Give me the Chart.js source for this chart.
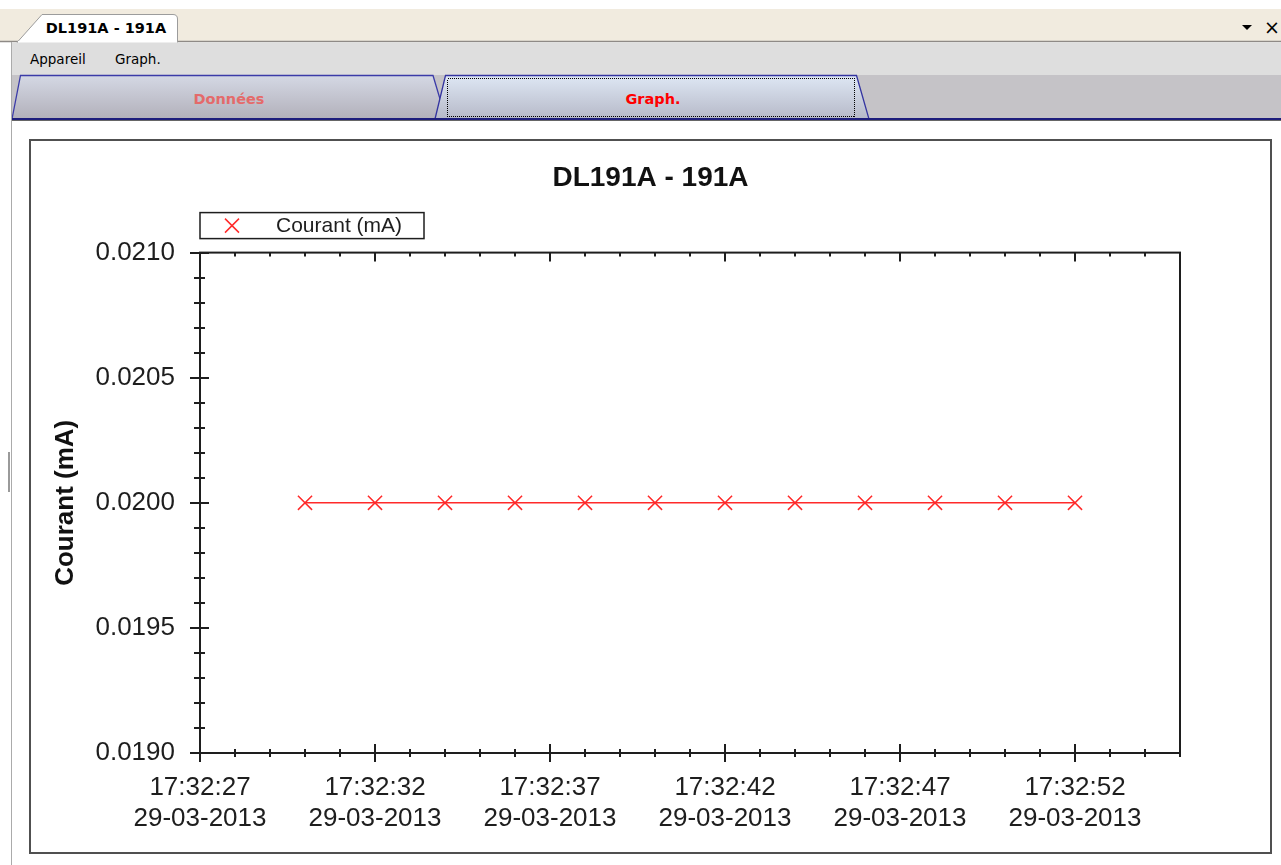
<!DOCTYPE html>
<html lang="fr">
<head>
<meta charset="utf-8">
<title>DL191A - 191A</title>
<script src="https://cdn.jsdelivr.net/npm/chart.js@4.4.1/dist/chart.umd.min.js"></script>
<style>
    html, body { margin: 0; padding: 0; background: #fff; }
    body { width: 1281px; height: 865px; overflow: hidden; position: relative; }
    #chrome { position: absolute; left: 0; top: 0; }
    #chrome text { font-family: 'DejaVu Sans', Verdana, sans-serif; }
    .bord-gauche { position: absolute; left: 11px; top: 42px; width: 1px; height: 823px; background: #ababab; }
    .poignee { position: absolute; left: 8px; top: 452px; width: 2px; height: 40px; background: #9a9a9a; }
    .panneau { position: absolute; left: 29px; top: 139px; width: 1243px; height: 715px;
               border: 2px solid #505050; box-sizing: border-box; }
    #graphique { position: absolute; left: 32px; top: 142px; }
</style>
</head>
<body>

<svg id="chrome" width="1281" height="122" xmlns="http://www.w3.org/2000/svg">
    <defs>
        <linearGradient id="gDonnees" x1="0" y1="0" x2="0" y2="1">
            <stop offset="0" stop-color="#d4d8e4"/>
            <stop offset="1" stop-color="#b2b0ba"/>
        </linearGradient>
        <linearGradient id="gGraph" x1="0" y1="0" x2="0" y2="1">
            <stop offset="0" stop-color="#dee7f4"/>
            <stop offset="1" stop-color="#b6b9c8"/>
        </linearGradient>
    </defs>
    <!-- barre d'onglets du document -->
    <rect x="0" y="9" width="1281" height="33" fill="#f1ebdf"/>
    <line x1="0" y1="41.5" x2="1281" y2="41.5" stroke="#8e8a86" stroke-width="1.5"/>
    <path d="M17,42.5 L42,14.5 H173 Q177.5,14.5 177.5,19 V42.5 Z" fill="#fff" stroke="#9c9c9c" stroke-width="1"/>
    <rect x="18" y="41" width="159" height="3" fill="#fff"/>
    <text x="106" y="32.5" text-anchor="middle" font-size="14.5" font-weight="bold" fill="#000">DL191A - 191A</text>
    <path d="M1242,25 h10 l-5,5 z" fill="#000"/>
    <text x="1272" y="34" text-anchor="middle" font-size="19" fill="#000">×</text>

    <!-- menu -->
    <rect x="12" y="42.5" width="1269" height="32.5" fill="#dedede"/>
    <text x="30" y="64" font-size="13.5" fill="#000">Appareil</text>
    <text x="115" y="64" font-size="13.5" fill="#000">Graph.</text>

    <!-- onglets Données / Graph. -->
    <rect x="12" y="75" width="1269" height="45" fill="#c5c3c7"/>
    <path d="M12,119 L20.5,75.5 H433 L446,119 Z" fill="url(#gDonnees)" stroke="#3b3ba8" stroke-width="1.3"/>
    <text x="229" y="104" text-anchor="middle" font-size="14.5" font-weight="bold" fill="#e46a6a">Données</text>
    <path d="M435,119 L445.5,75.5 H856.5 L869,119 Z" fill="url(#gGraph)" stroke="#3434a0" stroke-width="1.3"/>
    <rect x="447.5" y="78.5" width="407" height="38" fill="none" stroke="#000" stroke-width="1"
          stroke-dasharray="1,1" shape-rendering="crispEdges"/>
    <text x="653" y="104" text-anchor="middle" font-size="14.5" font-weight="bold" fill="#ff0000">Graph.</text>
    <line x1="12" y1="119" x2="1281" y2="119" stroke="#1d1d7c" stroke-width="2"/>
    <line x1="12" y1="120.5" x2="1281" y2="120.5" stroke="#666" stroke-width="1"/>
</svg>
<div class="bord-gauche"></div>
<div class="poignee"></div>
<div class="panneau"></div>
<canvas id="graphique" width="1237" height="709"></canvas>

<script>
// mesures relevées
const heures = ['17:32:30', '17:32:32', '17:32:34', '17:32:36', '17:32:38', '17:32:40',
                '17:32:42', '17:32:44', '17:32:46', '17:32:48', '17:32:50', '17:32:52'];
const courant = [0.0200, 0.0200, 0.0200, 0.0200, 0.0200, 0.0200,
                 0.0200, 0.0200, 0.0200, 0.0200, 0.0200, 0.0200];

// graduations
const ticksHeures = ['17:32:27', '17:32:32', '17:32:37', '17:32:42', '17:32:47', '17:32:52'];
const ticksCourant = [0.0190, 0.0195, 0.0200, 0.0205, 0.0210];
const dateMesure = '29-03-2013';
const debutAxe = '17:32:27';
const finAxe = '17:32:55';

const police = "'Liberation Sans', Arial, Helvetica, sans-serif";
const rouge = '#ff2a2a';
const noir = '#1e1e1e';

const enSecondes = (h) => {
    const [hh, mm, ss] = h.split(':').map(Number);
    return hh * 3600 + mm * 60 + ss;
};

const enHeure = (s) => {
    const p = (n) => String(n).padStart(2, '0');
    return `${p(Math.floor(s / 3600))}:${p(Math.floor(s / 60) % 60)}:${p(s % 60)}`;
};

const points = heures.map((h, i) => ({ x: enSecondes(h), y: courant[i] }));
const majeursX = ticksHeures.map(enSecondes);

// cadre du tracé + graduations croisées (principales et secondaires)
const cadreAxes = {
    id: 'cadreAxes',
    beforeDatasetsDraw(chart) {
        const { ctx, chartArea: a, scales: { x, y } } = chart;
        ctx.save();
        ctx.strokeStyle = noir;
        ctx.lineWidth = 2;
        ctx.strokeRect(a.left, a.top, a.right - a.left, a.bottom - a.top);

        ctx.beginPath();
        for (let s = Math.ceil(x.min); s <= x.max; s++) {
            const px = Math.round(x.getPixelForValue(s));
            const majeur = majeursX.includes(s);
            const l = majeur ? 9 : 4;
            ctx.moveTo(px, a.bottom - l);
            ctx.lineTo(px, a.bottom + l);
            ctx.moveTo(px, a.top);
            ctx.lineTo(px, a.top + l);
        }
        const pas = 0.0001;
        const n = Math.round((y.max - y.min) / pas);
        for (let i = 0; i <= n; i++) {
            const py = Math.round(y.getPixelForValue(y.min + i * pas));
            const l = i % 5 === 0 ? 9 : 5;
            ctx.moveTo(a.left - l - 1, py);
            ctx.lineTo(a.left + l, py);
        }
        ctx.stroke();
        ctx.restore();
    }
};

// légende encadrée au-dessus du tracé
const legendeCadre = {
    id: 'legendeCadre',
    afterDraw(chart) {
        const { ctx, chartArea: a } = chart;
        const haut = a.top - 40;
        const cy = haut + 13;
        ctx.save();
        ctx.strokeStyle = noir;
        ctx.lineWidth = 1.5;
        ctx.strokeRect(a.left, haut, 224, 26);

        const mx = a.left + 32;
        ctx.strokeStyle = rouge;
        ctx.lineWidth = 1.5;
        ctx.beginPath();
        ctx.moveTo(mx - 7, cy - 7); ctx.lineTo(mx + 7, cy + 7);
        ctx.moveTo(mx + 7, cy - 7); ctx.lineTo(mx - 7, cy + 7);
        ctx.stroke();

        ctx.fillStyle = noir;
        ctx.font = `21px ${police}`;
        ctx.textBaseline = 'middle';
        ctx.fillText(chart.data.datasets[0].label, a.left + 76, cy + 1);
        ctx.restore();
    }
};

const initGraphique = () => {
    const ctx = document.getElementById('graphique').getContext('2d');
    Chart.defaults.font.family = police;
    Chart.defaults.color = noir;

    new Chart(ctx, {
        type: 'line',
        data: {
            datasets: [{
                label: 'Courant (mA)',
                data: points,
                borderColor: rouge,
                borderWidth: 1.5,
                pointStyle: 'crossRot',
                pointRadius: 10,
                pointBorderColor: rouge,
                pointBorderWidth: 1.5,
                pointBackgroundColor: rouge,
                tension: 0,
                fill: false
            }]
        },
        options: {
            responsive: false,
            animation: false,
            events: [],
            layout: { padding: 0 },
            scales: {
                x: {
                    type: 'linear',
                    min: enSecondes(debutAxe),
                    max: enSecondes(finAxe),
                    grid: { display: false, drawTicks: false },
                    border: { display: false },
                    afterBuildTicks: (scale) => {
                        scale.ticks = majeursX.map(v => ({ value: v }));
                    },
                    afterFit: (scale) => { scale.height = 98; },
                    ticks: {
                        autoSkip: false,
                        maxRotation: 0,
                        padding: 19,
                        font: { size: 26 },
                        color: noir,
                        callback: (v) => [enHeure(v), dateMesure]
                    }
                },
                y: {
                    min: ticksCourant[0],
                    max: ticksCourant[ticksCourant.length - 1],
                    grid: { display: false, drawTicks: false },
                    border: { display: false },
                    afterBuildTicks: (scale) => {
                        scale.ticks = ticksCourant.map(v => ({ value: v }));
                    },
                    afterFit: (scale) => { scale.width = 168; },
                    ticks: {
                        padding: 25,
                        font: { size: 26 },
                        color: noir,
                        callback: (v) => v.toFixed(4)
                    },
                    title: {
                        display: true,
                        text: 'Courant (mA)',
                        color: '#111',
                        font: { size: 26, weight: 'bold' },
                        padding: { top: 18, bottom: 0 }
                    }
                },
                // marge droite vide (sans graduations) pour garder le titre centré sur le panneau
                marge: {
                    type: 'linear',
                    position: 'right',
                    grid: { display: false, drawTicks: false },
                    border: { display: false },
                    ticks: { display: false },
                    afterFit: (scale) => { scale.width = 89; }
                }
            },
            plugins: {
                legend: { display: false },
                tooltip: { enabled: false },
                title: {
                    display: true,
                    text: 'DL191A - 191A',
                    color: '#111',
                    font: { size: 28, weight: 'bold' },
                    padding: { top: 19, bottom: 58 }
                }
            }
        },
        plugins: [cadreAxes, legendeCadre]
    });
};

document.addEventListener('DOMContentLoaded', () => {
    initGraphique();
});
</script>
</body>
</html>
